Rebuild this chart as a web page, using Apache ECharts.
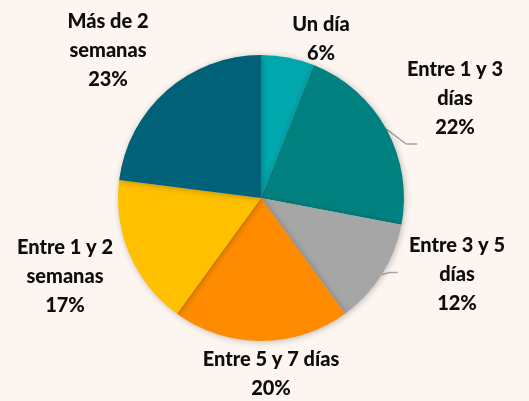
<!DOCTYPE html>
<html>
<head>
<meta charset="utf-8">
<script src="https://cdn.jsdelivr.net/npm/echarts@6/dist/echarts.min.js"></script>
<style>
  html, body { margin: 0; padding: 0; background: #fdf6f0; }
  #chart { width: 529px; height: 401px; }
</style>
</head>
<body>
<div id="chart"></div>
<script>
// categories and shares (%)
var categories = ['Un día', 'Entre 1 y 3\ndías', 'Entre 3 y 5\ndías', 'Entre 5 y 7 días', 'Entre 1 y 2\nsemanas', 'Más de 2\nsemanas'];
var shares = [6, 22, 12, 20, 17, 23];
var colors = ['#00a8ad', '#00807f', '#a6a6a6', '#ff8c00', '#ffc000', '#006178'];

// label centres (px) and leader line bends (offsets from slice edge)
var labelPos = [[321, 39], [455, 99], [457, 275], [271, 374], [65, 277], [108, 51]];
var lineBend = [null, [[20, 15], [31, 15]], [[8, -2], [16, -2]], null, null, null];

var chart = echarts.init(document.getElementById('chart'));

var data = categories.map(function (c, i) {
  return {
    name: c,
    value: shares[i],
    itemStyle: { color: colors[i] },
    labelLine: { show: !!lineBend[i] }
  };
});

chart.setOption({
  backgroundColor: '#fdf6f0',
  animation: false,
  series: [{
    type: 'pie',
    center: [261, 198],
    radius: 143,
    startAngle: 90,
    clockwise: true,
    data: data,
    itemStyle: {
      shadowBlur: 6,
      shadowColor: 'rgba(0,0,0,0.25)',
      shadowOffsetX: 1,
      shadowOffsetY: 1
    },
    label: {
      formatter: '{b}\n{c}%',
      fontFamily: 'Lato, "DejaVu Sans Condensed", sans-serif',
      fontWeight: 900,
      fontSize: 20,
      lineHeight: 29,
      color: '#0d0d0d',
      align: 'center',
      overflow: 'none'
    },
    labelLine: {
      lineStyle: { color: '#a6a6a6', width: 1.5 },
      length: 15,
      length2: 10
    },
    labelLayout: function (params) {
      var i = params.dataIndex;
      var p = labelPos[i];
      var out = { x: p[0], y: p[1], align: 'center', verticalAlign: 'middle' };
      var pts = params.labelLinePoints;
      if (lineBend[i] && pts) {
        var s = pts[0];
        out.labelLinePoints = [
          [s[0], s[1]],
          [s[0] + lineBend[i][0][0], s[1] + lineBend[i][0][1]],
          [s[0] + lineBend[i][1][0], s[1] + lineBend[i][1][1]]
        ];
      }
      return out;
    }
  }]
});
</script>
</body>
</html>
